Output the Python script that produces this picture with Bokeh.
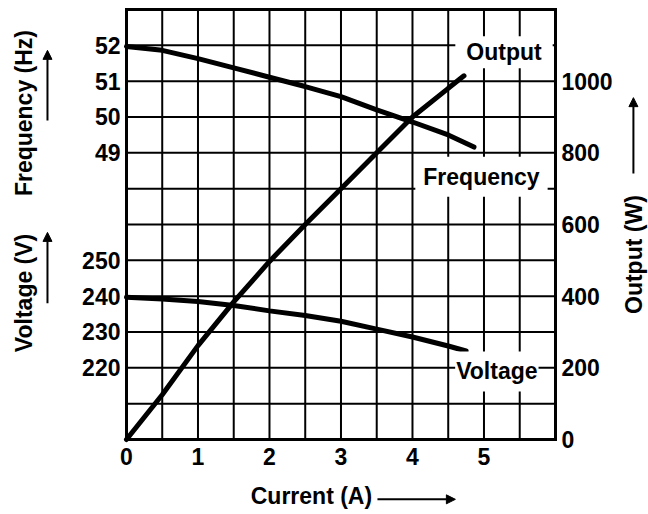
import numpy as np
from bokeh.plotting import figure
from bokeh.models import Range1d, LinearAxis, FixedTicker, Label, Arrow, NormalHead
from bokeh.embed import file_html
from bokeh.resources import INLINE

# ---- data ----
current_out = [0, 0.5, 1.0, 1.5, 2.0, 2.5, 3.0, 3.5, 4.0, 4.5, 4.72]
output_w = [0, 125, 262, 384, 497, 600, 700, 800, 900, 980, 1015]

current_freq = [0, 0.5, 1.0, 1.5, 2.0, 2.5, 3.0, 3.5, 4.0, 4.5, 4.86]
freq_hz = [51.97, 51.86, 51.63, 51.37, 51.11, 50.85, 50.57, 50.2, 49.86, 49.5, 49.16]

current_volt = [0, 0.5, 1.0, 1.5, 2.0, 2.5, 3.0, 3.5, 4.0, 4.5, 4.75]
volt_v = [239.7, 239.2, 238.5, 237.4, 235.9, 234.6, 233.0, 230.8, 228.6, 226.1, 224.7]

x_ticks = [0, 1, 2, 3, 4, 5]
output_ticks = [0, 200, 400, 600, 800, 1000]
freq_ticks = [49, 50, 51, 52]
volt_ticks = [220, 230, 240, 250]
x_grid = [0.5, 1, 1.5, 2, 2.5, 3, 3.5, 4, 4.5, 5, 5.5]
y_grid = [100, 200, 300, 400, 500, 600, 700, 800, 900, 1000, 1100]

X_RANGE = (0, 6)        # current (A) shown in the chart box
W_RANGE = (0, 1200)     # output (W) shown in the chart box
F_RANGE = (41, 53)      # frequency scale sharing the box
V_RANGE = (200, 320)    # voltage scale sharing the box

# view extent around the box (room for the outer texts)
VIEW_X = (-1.762, 7.301)
VIEW_Y = (-209.3, 1225.1)

FONT = "Liberation Sans"


def to_w(v, rng):
    return int(round(W_RANGE[0] + (v - rng[0]) / (rng[1] - rng[0]) * (W_RANGE[1] - W_RANGE[0])))


def frac(rng, view):
    # extend a secondary range so it lines up with the box
    a, b = rng
    k = (b - a) / (W_RANGE[1] - W_RANGE[0])
    return Range1d(a + (view[0] - W_RANGE[0]) * k, a + (view[1] - W_RANGE[0]) * k)


p = figure(width=648, height=514, x_range=Range1d(*VIEW_X), y_range=Range1d(*VIEW_Y),
           output_backend="svg", toolbar_location=None,
           x_axis_location=None, y_axis_location=None,
           min_border=0, min_border_left=0, min_border_right=0,
           min_border_top=0, min_border_bottom=0)
p.extra_y_ranges = {"freq": frac(F_RANGE, VIEW_Y), "volt": frac(V_RANGE, VIEW_Y)}
p.background_fill_color = "white"
p.border_fill_color = "white"
p.outline_line_color = None
p.xgrid.visible = False
p.ygrid.visible = False

# grid lines of the chart box
p.segment(x0=x_grid, y0=[W_RANGE[0]] * len(x_grid), x1=x_grid, y1=[W_RANGE[1]] * len(x_grid),
          line_color="black", line_width=2, level="underlay")
p.segment(x0=[X_RANGE[0]] * len(y_grid), y0=y_grid, x1=[X_RANGE[1]] * len(y_grid), y1=y_grid,
          line_color="black", line_width=2, level="underlay")

# axes fixed on the box edges
xa = LinearAxis(ticker=FixedTicker(ticks=x_ticks), fixed_location=W_RANGE[0], bounds=X_RANGE)
left_pos = [to_w(t, F_RANGE) for t in freq_ticks] + [to_w(t, V_RANGE) for t in volt_ticks]
left_lbl = [str(t) for t in freq_ticks] + [str(t) for t in volt_ticks]
ya = LinearAxis(ticker=FixedTicker(ticks=left_pos), fixed_location=X_RANGE[0], bounds=W_RANGE)
ya.major_label_overrides = {pp: ll for pp, ll in zip(left_pos, left_lbl)}
ra = LinearAxis(ticker=FixedTicker(ticks=output_ticks), fixed_location=X_RANGE[1], bounds=W_RANGE)
ta = LinearAxis(ticker=FixedTicker(ticks=[]), fixed_location=W_RANGE[1], bounds=X_RANGE)
p.add_layout(xa, "below")
p.add_layout(ya, "left")
p.add_layout(ra, "right")
p.add_layout(ta, "above")

for ax in (xa, ya, ra, ta):
    ax.axis_line_color = "black"
    ax.axis_line_width = 3
    ax.axis_line_cap = "square"
    ax.major_tick_line_color = None
    ax.minor_tick_line_color = None
    ax.major_tick_out = 0
    ax.major_tick_in = 0
    ax.major_label_text_font = FONT
    ax.major_label_text_font_style = "bold"
    ax.major_label_text_font_size = "23px"
    ax.major_label_text_color = "black"
xa.major_label_standoff = 9
ya.major_label_standoff = 6
ra.major_label_standoff = 6

# curves
LW = 5
p.line(current_out, output_w, line_width=LW, line_color="black", line_cap="round")
p.line(current_freq, freq_hz, line_width=LW, line_color="black", line_cap="round", y_range_name="freq")
p.line(current_volt, volt_v, line_width=LW, line_color="black", line_cap="round", y_range_name="volt")


def curve_label(txt, x, y, pad):
    p.add_layout(Label(x=x, y=y, text=txt, text_align="center", text_baseline="middle",
                       text_font=FONT, text_font_style="bold", text_font_size="23px",
                       text_color="black", background_fill_color="white", padding=pad))


curve_label("Output", 5.28, 1081, (11, 3))
curve_label("Frequency", 4.965, 733, (8, 7))
curve_label("Voltage", 5.18, 190, (1, 7))


def title(txt, x, y, angle):
    p.add_layout(Label(x=x, y=y, text=txt, text_align="center", text_baseline="middle",
                       angle=angle, text_font=FONT, text_font_style="bold",
                       text_font_size="23px", text_color="black"))


title("Frequency (Hz)", -1.44, 911, np.pi / 2)
title("Voltage (V)", -1.44, 409, np.pi / 2)
title("Output (W)", 7.105, 516, np.pi / 2)
title("Current (A)", 2.587, -159, 0)


def arrow(x0, y0, x1, y1):
    p.add_layout(Arrow(x_start=x0, y_start=y0, x_end=x1, y_end=y1, line_width=2,
                       line_color="black",
                       end=NormalHead(size=9, fill_color="black", line_color="black", line_width=1)))


arrow(-1.105, 890, -1.105, 1086)
arrow(-1.105, 380, -1.105, 578)
arrow(7.09, 742, 7.09, 954)
arrow(3.51, -167, 4.60, -167)

open("out.html", "w").write(file_html(p, INLINE))
